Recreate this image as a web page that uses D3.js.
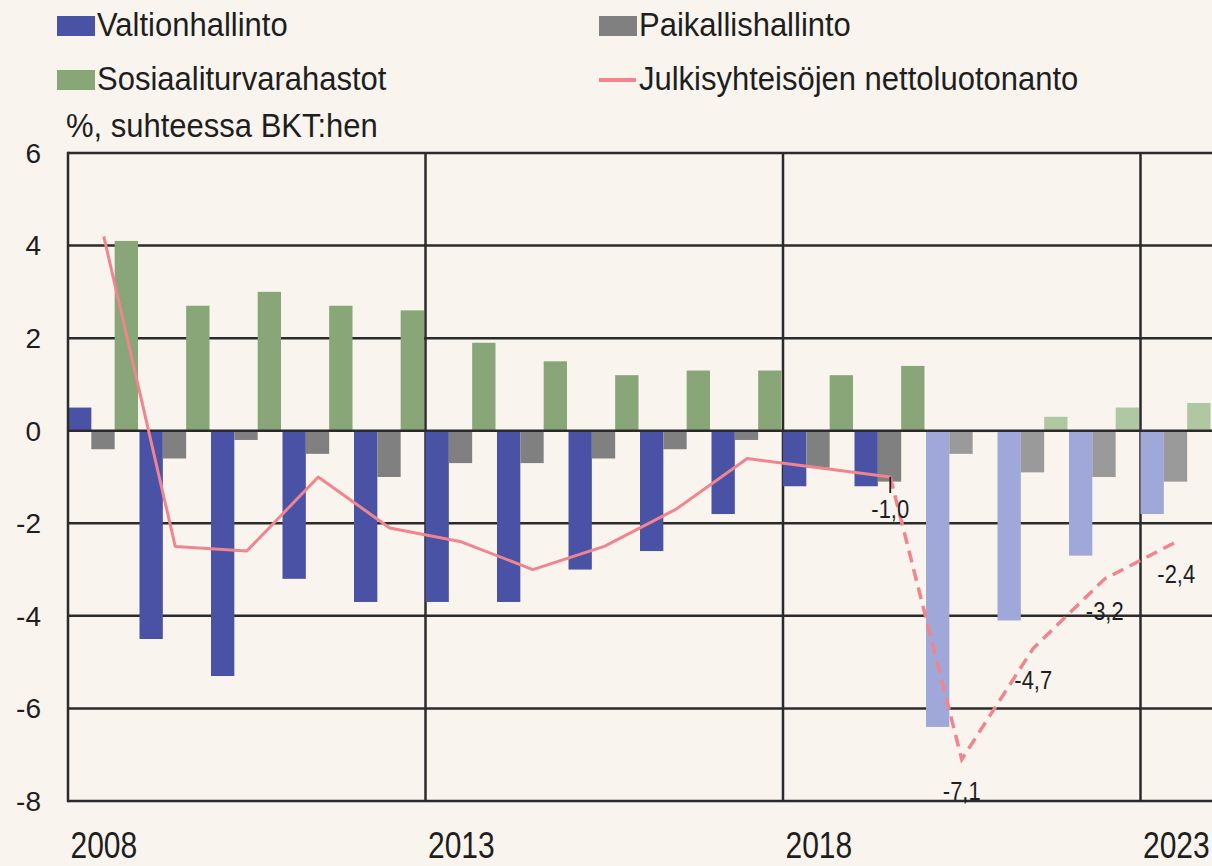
<!DOCTYPE html>
<html><head><meta charset="utf-8">
<script src="https://cdn.jsdelivr.net/npm/d3@7"></script>
<style>
body{margin:0;background:#f9f5ee;}
svg{display:block;font-family:"Liberation Sans",Arial,sans-serif;}
</style>
</head><body>
<svg id="c" width="1212" height="866"></svg>
<script>
// ---- data ----
const years = [2008,2009,2010,2011,2012,2013,2014,2015,2016,2017,2018,2019,2020,2021,2022,2023];
const valtionhallinto   = [0.5,-4.5,-5.3,-3.2,-3.7,-3.7,-3.7,-3.0,-2.6,-1.8,-1.2,-1.2,-6.4,-4.1,-2.7,-1.8];
const paikallishallinto = [-0.4,-0.6,-0.2,-0.5,-1.0,-0.7,-0.7,-0.6,-0.4,-0.2,-0.8,-1.1,-0.5,-0.9,-1.0,-1.1];
const sosiaaliturvarahastot = [4.1,2.7,3.0,2.7,2.6,1.9,1.5,1.2,1.3,1.3,1.2,1.4,0.0,0.3,0.5,0.6];
const nettoluotonanto   = [4.2,-2.5,-2.6,-1.0,-2.1,-2.4,-3.0,-2.5,-1.7,-0.6,-0.8,-1.0,-7.1,-4.7,-3.2,-2.4];
const firstForecastYear = 2020;
const labelledYears = [2019,2020,2021,2022,2023];
const yTicks = [6,4,2,0,-2,-4,-6,-8];
const xTickYears = [2008,2013,2018,2023];
const seriesNames = ["Valtionhallinto","Paikallishallinto","Sosiaaliturvarahastot","Julkisyhteisöjen nettoluotonanto"];
const yAxisTitle = "%, suhteessa BKT:hen";

// ---- styles ----
const colors = {
  v:  "#4a52a6", p:  "#808080", s:  "#88a677",
  vf: "#a0a8da", pf: "#9a9a9a", sf: "#b0c8a2",
  line: "#f0848f", grid: "#2b2b2b", text: "#1e1e1e"
};

const svg = d3.select("#c");
const x = d3.scaleBand().domain(years).range([68, 1212]).paddingInner(0).paddingOuter(0);
const bw = x.bandwidth();
const xs = d3.scaleBand().domain(["v","p","s"]).range([0, bw - 1.5]);
const y = d3.scaleLinear().domain([-8, 6]).range([801, 153]);

const fmt = d3.formatLocale({decimal:",", thousands:" ", grouping:[3], currency:["","€"], minus:"-"}).format(".1f");

// gridlines (behind bars)
const gGrid = svg.append("g");
gGrid.selectAll("line.h").data(yTicks.filter(d => d !== 0)).join("line")
  .attr("x1", 68).attr("x2", 1212)
  .attr("y1", d => y(d)).attr("y2", d => y(d))
  .attr("stroke", colors.grid).attr("stroke-width", 2.5);
gGrid.selectAll("line.v").data(xTickYears.slice(1)).join("line")
  .attr("x1", d => x(d)).attr("x2", d => x(d))
  .attr("y1", y(6)).attr("y2", y(-8))
  .attr("stroke", colors.grid).attr("stroke-width", 2.5);

// bars
const rows = years.map((yr, i) => ({yr, v: valtionhallinto[i], p: paikallishallinto[i], s: sosiaaliturvarahastot[i], f: yr >= firstForecastYear}));
const gBars = svg.append("g");
["v","p","s"].forEach(k => {
  gBars.selectAll("rect." + k).data(rows).join("rect")
    .attr("x", d => x(d.yr) + xs(k))
    .attr("width", xs.bandwidth())
    .attr("y", d => y(Math.max(0, d[k])))
    .attr("height", d => Math.max(Math.abs(y(d[k]) - y(0)), d[k] === 0 ? 1.5 : 0))
    .attr("fill", d => d.f ? colors[k + "f"] : colors[k]);
});

// zero line and left axis (on top of bars)
svg.append("line").attr("x1", 68).attr("x2", 1212).attr("y1", y(0)).attr("y2", y(0))
  .attr("stroke", colors.grid).attr("stroke-width", 2.5);
svg.append("line").attr("x1", 68).attr("x2", 68).attr("y1", y(6) - 1.2).attr("y2", y(-8) + 1.2)
  .attr("stroke", colors.grid).attr("stroke-width", 2.5);

// line
const pts = years.map((yr, i) => ({yr, v: nettoluotonanto[i]}));
const lineGen = d3.line().x(d => x(d.yr) + bw / 2).y(d => y(d.v));
svg.append("path").datum(pts.filter(d => d.yr < firstForecastYear))
  .attr("d", lineGen).attr("fill", "none").attr("stroke", colors.line)
  .attr("stroke-width", 3).attr("stroke-linejoin", "round");
svg.append("path").datum(pts.filter(d => d.yr >= firstForecastYear - 1))
  .attr("d", lineGen).attr("fill", "none").attr("stroke", colors.line)
  .attr("stroke-width", 3.5).attr("stroke-dasharray", "12,7");

// value labels
const lab = pts.filter(d => labelledYears.includes(d.yr));
svg.append("line")
  .attr("x1", x(2019) + bw / 2).attr("x2", x(2019) + bw / 2)
  .attr("y1", y(nettoluotonanto[years.indexOf(2019)])).attr("y2", y(nettoluotonanto[years.indexOf(2019)]) + 16)
  .attr("stroke", colors.text).attr("stroke-width", 1.8);
svg.selectAll("text.lbl").data(lab).join("text")
  .attr("transform", d => `translate(${x(d.yr) + bw / 2},${y(d.v) + 41}) scale(1,1.15)`)
  .attr("text-anchor", "middle").attr("font-size", 22).attr("fill", colors.text)
  .text(d => fmt(d.v));

// y tick labels
svg.selectAll("text.yt").data(yTicks).join("text")
  .attr("x", 41).attr("y", d => y(d)).attr("dy", "0.35em")
  .attr("text-anchor", "end").attr("font-size", 28).attr("fill", colors.text)
  .text(d => d);

// x tick labels
svg.selectAll("text.xt").data(xTickYears).join("text")
  .attr("transform", d => `translate(${x(d) + 2.5},858) scale(1,1.25)`)
  .attr("font-size", 30).attr("fill", colors.text)
  .text(d => d);

// legend
const legend = [
  {name: seriesNames[0], type: "rect", color: colors.v, x: 57, y: 36},
  {name: seriesNames[1], type: "rect", color: colors.p, x: 599, y: 36},
  {name: seriesNames[2], type: "rect", color: colors.s, x: 57, y: 90},
  {name: seriesNames[3], type: "line", color: colors.line, x: 599, y: 90}
];
const lg = svg.append("g");
legend.forEach(d => {
  if (d.type === "rect") {
    lg.append("rect").attr("x", d.x).attr("y", d.y - 20).attr("width", 38).attr("height", 20).attr("fill", d.color);
  } else {
    lg.append("line").attr("x1", d.x).attr("x2", d.x + 37).attr("y1", d.y - 10).attr("y2", d.y - 10)
      .attr("stroke", d.color).attr("stroke-width", 4);
  }
  lg.append("text").attr("transform", `translate(${d.x + 40},${d.y}) scale(1,1.08)`)
    .attr("font-size", 31).attr("fill", colors.text).text(d.name);
});
svg.append("text").attr("transform", "translate(66,137) scale(1,1.08)")
  .attr("font-size", 31).attr("fill", colors.text).text(yAxisTitle);
</script>
</body></html>
